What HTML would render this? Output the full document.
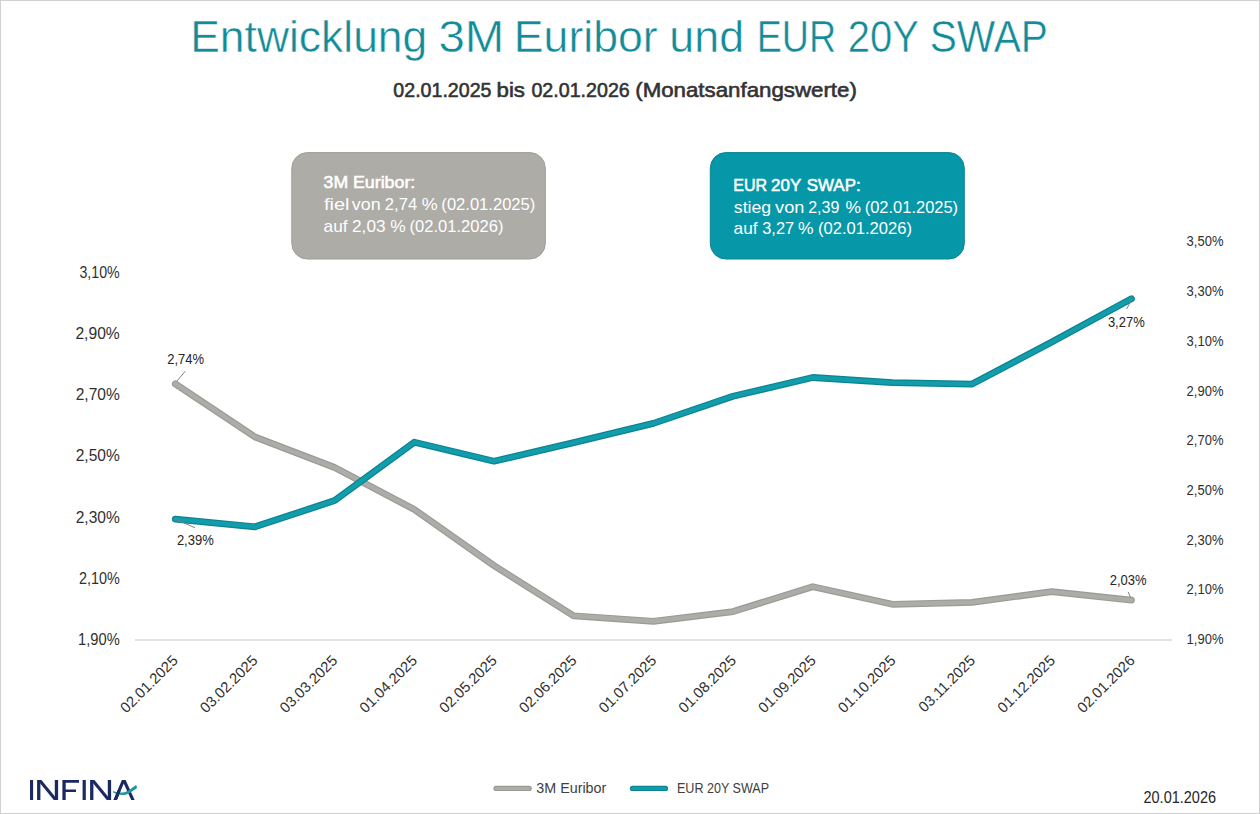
<!DOCTYPE html>
<html><head><meta charset="utf-8">
<style>
html,body{margin:0;padding:0;background:#fff;}
body{width:1260px;height:814px;overflow:hidden;position:relative;font-family:"Liberation Sans",sans-serif;}
svg{position:absolute;left:0;top:0;}
svg text{font-family:"Liberation Sans",sans-serif;}
</style></head>
<body>
<svg width="1260" height="814" viewBox="0 0 1260 814">
<rect x="0.5" y="0.5" width="1259" height="813" fill="#fff" stroke="#d0d0d0" stroke-width="1"/>

<!-- Title -->
<g font-size="44.2" fill="#138b98" stroke="#ffffff" stroke-width="0.5">
<text x="190.20" y="52.1" textLength="237.11" lengthAdjust="spacingAndGlyphs">Entwicklung</text>
<text x="438.44" y="52.1" textLength="65.90" lengthAdjust="spacingAndGlyphs">3M</text>
<text x="513.79" y="52.1" textLength="143.90" lengthAdjust="spacingAndGlyphs">Euribor</text>
<text x="669.34" y="52.1" textLength="74.80" lengthAdjust="spacingAndGlyphs">und</text>
<text x="756.76" y="52.1" textLength="79.43" lengthAdjust="spacingAndGlyphs">EUR</text>
<text x="847.84" y="52.1" textLength="71.19" lengthAdjust="spacingAndGlyphs">20Y</text>
<text x="929.63" y="52.1" textLength="118.34" lengthAdjust="spacingAndGlyphs">SWAP</text>
</g>
<g font-size="20.8" fill="#333333" stroke="#333333" stroke-width="0.6">
<text x="393.33" y="97" textLength="98.19" lengthAdjust="spacingAndGlyphs">02.01.2025</text>
<text x="496.57" y="97" textLength="28.44" lengthAdjust="spacingAndGlyphs">bis</text>
<text x="531.43" y="97" textLength="98.33" lengthAdjust="spacingAndGlyphs">02.01.2026</text>
<text x="635.22" y="97" textLength="221.66" lengthAdjust="spacingAndGlyphs">(Monatsanfangswerte)</text>
</g>

<!-- Boxes -->
<rect x="291.8" y="152.6" width="253.5" height="106.4" rx="15.5" ry="15.5" fill="#adaca7" stroke="#9e9d98" stroke-width="1"/>
<rect x="710.3" y="152.6" width="254" height="106.4" rx="15.5" ry="15.5" fill="#0698a8" stroke="#088593" stroke-width="1"/>
<g fill="#ffffff">
<text x="323.61" y="188.1" font-size="16.6" stroke="#fff" stroke-width="0.55" textLength="24.56" lengthAdjust="spacingAndGlyphs">3M</text>
<text x="352.92" y="188.1" font-size="16.6" stroke="#fff" stroke-width="0.55" textLength="62.43" lengthAdjust="spacingAndGlyphs">Euribor:</text>
<text x="324.02" y="209.7" font-size="16.4" textLength="25.41" lengthAdjust="spacingAndGlyphs">fiel</text>
<text x="351.84" y="209.7" font-size="16.4" textLength="28.82" lengthAdjust="spacingAndGlyphs">von</text>
<text x="384.86" y="209.7" font-size="16.4" textLength="32.32" lengthAdjust="spacingAndGlyphs">2,74</text>
<text x="421.76" y="209.7" font-size="16.4" textLength="15.98" lengthAdjust="spacingAndGlyphs">%</text>
<text x="441.37" y="209.7" font-size="16.4" textLength="93.95" lengthAdjust="spacingAndGlyphs">(02.01.2025)</text>
<text x="323.57" y="231.5" font-size="16.4" textLength="24.01" lengthAdjust="spacingAndGlyphs">auf</text>
<text x="352.03" y="231.5" font-size="16.4" textLength="33.52" lengthAdjust="spacingAndGlyphs">2,03</text>
<text x="390.38" y="231.5" font-size="16.4" textLength="15.44" lengthAdjust="spacingAndGlyphs">%</text>
<text x="409.47" y="231.5" font-size="16.4" textLength="93.95" lengthAdjust="spacingAndGlyphs">(02.01.2026)</text>
<text x="733.37" y="190.9" font-size="16.6" stroke="#fff" stroke-width="0.55" textLength="33.80" lengthAdjust="spacingAndGlyphs">EUR</text>
<text x="771.13" y="190.9" font-size="16.6" stroke="#fff" stroke-width="0.55" textLength="30.06" lengthAdjust="spacingAndGlyphs">20Y</text>
<text x="806.72" y="190.9" font-size="16.6" stroke="#fff" stroke-width="0.55" textLength="53.93" lengthAdjust="spacingAndGlyphs">SWAP:</text>
<text x="733.81" y="212.8" font-size="16.4" textLength="37.33" lengthAdjust="spacingAndGlyphs">stieg</text>
<text x="775.14" y="212.8" font-size="16.4" textLength="29.34" lengthAdjust="spacingAndGlyphs">von</text>
<text x="808.19" y="212.8" font-size="16.4" textLength="31.16" lengthAdjust="spacingAndGlyphs">2,39</text>
<text x="845.58" y="212.8" font-size="16.4" textLength="15.55" lengthAdjust="spacingAndGlyphs">%</text>
<text x="864.68" y="212.8" font-size="16.4" textLength="93.44" lengthAdjust="spacingAndGlyphs">(02.01.2025)</text>
<text x="733.57" y="234.2" font-size="16.4" textLength="24.01" lengthAdjust="spacingAndGlyphs">auf</text>
<text x="762.28" y="234.2" font-size="16.4" textLength="31.85" lengthAdjust="spacingAndGlyphs">3,27</text>
<text x="797.98" y="234.2" font-size="16.4" textLength="15.55" lengthAdjust="spacingAndGlyphs">%</text>
<text x="817.97" y="234.2" font-size="16.4" textLength="94.06" lengthAdjust="spacingAndGlyphs">(02.01.2026)</text>
</g>

<!-- Axis line -->
<line x1="135" y1="640" x2="1172" y2="640" stroke="#d9d9d9" stroke-width="1.5"/>

<!-- Left axis labels -->
<g fill="#303030" font-size="15.2">
<text transform="translate(79.46,277.70) scale(1,1.09)" textLength="40.25" lengthAdjust="spacingAndGlyphs">3,10%</text>
<text transform="translate(75.41,338.90) scale(1,1.09)" textLength="44.34" lengthAdjust="spacingAndGlyphs">2,90%</text>
<text transform="translate(75.72,400.10) scale(1,1.09)" textLength="44.03" lengthAdjust="spacingAndGlyphs">2,70%</text>
<text transform="translate(75.72,461.30) scale(1,1.09)" textLength="44.03" lengthAdjust="spacingAndGlyphs">2,50%</text>
<text transform="translate(75.72,522.50) scale(1,1.09)" textLength="44.03" lengthAdjust="spacingAndGlyphs">2,30%</text>
<text transform="translate(78.88,583.70) scale(1,1.09)" textLength="40.84" lengthAdjust="spacingAndGlyphs">2,10%</text>
<text transform="translate(78.08,644.90) scale(1,1.09)" textLength="41.64" lengthAdjust="spacingAndGlyphs">1,90%</text>
</g>
<!-- Right axis labels -->
<g fill="#303030" font-size="13">
<text transform="translate(1186.6,246.40) scale(1,1.12)">3,50%</text>
<text transform="translate(1186.6,296.10) scale(1,1.12)">3,30%</text>
<text transform="translate(1186.6,345.80) scale(1,1.12)">3,10%</text>
<text transform="translate(1186.6,395.50) scale(1,1.12)">2,90%</text>
<text transform="translate(1186.6,445.20) scale(1,1.12)">2,70%</text>
<text transform="translate(1186.6,494.90) scale(1,1.12)">2,50%</text>
<text transform="translate(1186.6,544.60) scale(1,1.12)">2,30%</text>
<text transform="translate(1186.6,594.30) scale(1,1.12)">2,10%</text>
<text transform="translate(1186.6,644.00) scale(1,1.12)">1,90%</text>
</g>

<!-- X axis labels -->
<g fill="#303030" font-size="14.8" text-anchor="end">
<text transform="translate(178.70,661.5) rotate(-45)">02.01.2025</text>
<text transform="translate(258.45,661.5) rotate(-45)">03.02.2025</text>
<text transform="translate(338.20,661.5) rotate(-45)">03.03.2025</text>
<text transform="translate(417.95,661.5) rotate(-45)">01.04.2025</text>
<text transform="translate(497.70,661.5) rotate(-45)">02.05.2025</text>
<text transform="translate(577.45,661.5) rotate(-45)">02.06.2025</text>
<text transform="translate(657.20,661.5) rotate(-45)">01.07.2025</text>
<text transform="translate(736.95,661.5) rotate(-45)">01.08.2025</text>
<text transform="translate(816.70,661.5) rotate(-45)">01.09.2025</text>
<text transform="translate(896.45,661.5) rotate(-45)">01.10.2025</text>
<text transform="translate(976.20,661.5) rotate(-45)">03.11.2025</text>
<text transform="translate(1055.95,661.5) rotate(-45)">01.12.2025</text>
<text transform="translate(1135.70,661.5) rotate(-45)">02.01.2026</text>
</g>

<!-- Series -->
<g fill="none" stroke-linejoin="round" stroke-linecap="round">
<polyline stroke="#9a9a96" stroke-width="6.8" points="175.30,383.8 254.98,437.0 334.66,467.5 414.34,509.5 494.02,565.6 573.70,615.8 653.38,621.3 733.06,611.6 812.74,586.7 892.42,604.3 972.10,602.4 1051.78,591.6 1131.46,600.2"/>
<polyline stroke="#acaca8" stroke-width="4.4" points="175.30,383.8 254.98,437.0 334.66,467.5 414.34,509.5 494.02,565.6 573.70,615.8 653.38,621.3 733.06,611.6 812.74,586.7 892.42,604.3 972.10,602.4 1051.78,591.6 1131.46,600.2"/>
<polyline stroke="#0b8390" stroke-width="6.8" points="175.30,519.1 254.98,526.8 334.66,500.6 414.34,442.2 494.02,461.2 573.70,442.6 653.38,423.4 733.06,396.2 812.74,377.5 892.42,382.6 972.10,384.1 1051.78,342.1 1131.46,298.8"/>
<polyline stroke="#119dab" stroke-width="4.4" points="175.30,519.1 254.98,526.8 334.66,500.6 414.34,442.2 494.02,461.2 573.70,442.6 653.38,423.4 733.06,396.2 812.74,377.5 892.42,382.6 972.10,384.1 1051.78,342.1 1131.46,298.8"/>
</g>

<!-- Leader lines -->
<g stroke="#7f7f7f" stroke-width="1">
<line x1="176.7" y1="381.3" x2="185.2" y2="371.3"/>
<line x1="174.7" y1="519.1" x2="195" y2="527.7"/>
<line x1="1126.6" y1="309" x2="1131.9" y2="299.1"/>
<line x1="1128.2" y1="592" x2="1130.6" y2="597.6"/>
</g>
<!-- Data labels -->
<g fill="#262626" font-size="13">
<text transform="translate(167.2,364.2) scale(1,1.08)">2,74%</text>
<text transform="translate(176.9,545.2) scale(1,1.08)">2,39%</text>
<text transform="translate(1107.9,327) scale(1,1.08)">3,27%</text>
<text transform="translate(1109.7,585.2) scale(1,1.08)">2,03%</text>
</g>

<!-- Legend -->
<line x1="496" y1="788.4" x2="529.2" y2="788.4" stroke="#9a9a96" stroke-width="5.2" stroke-linecap="round"/>
<line x1="496" y1="788.4" x2="529.2" y2="788.4" stroke="#acaca8" stroke-width="3" stroke-linecap="round"/>
<text x="536.3" y="792.9" font-size="14" fill="#404040" textLength="70" lengthAdjust="spacingAndGlyphs">3M Euribor</text>
<line x1="632.5" y1="788.4" x2="665.5" y2="788.4" stroke="#0b8390" stroke-width="5.2" stroke-linecap="round"/>
<line x1="632.5" y1="788.4" x2="665.5" y2="788.4" stroke="#119dab" stroke-width="3" stroke-linecap="round"/>
<text x="677" y="792.9" font-size="14" fill="#404040" textLength="92" lengthAdjust="spacingAndGlyphs">EUR 20Y SWAP</text>

<!-- Date -->
<text x="1143.5" y="802.8" font-size="16" fill="#262626" textLength="72.5" lengthAdjust="spacingAndGlyphs">20.01.2026</text>

<!-- Logo -->
<defs><clipPath id="lc"><rect x="20" y="780" width="130" height="20"/></clipPath></defs>
<g fill="#1b2862">
<rect x="30" y="780" width="3.1" height="20"/>
<rect x="37.1" y="780" width="3.3" height="20"/>
<rect x="54.8" y="780" width="3.3" height="20"/>
<path d="M62.4,780 H79 V782.7 H65.7 V789.4 H76 V792 H65.7 V800 H62.4 Z"/>
<rect x="82.6" y="780" width="3.2" height="20"/>
<rect x="90.1" y="780" width="3.3" height="20"/>
<rect x="107.8" y="780" width="3.3" height="20"/>
</g>
<g clip-path="url(#lc)" stroke="#1b2862" stroke-width="3.1" fill="none">
<line x1="38.3" y1="778.6" x2="56.9" y2="801.4"/>
<line x1="91.3" y1="778.6" x2="109.9" y2="801.4"/>
<path d="M114.8,801 L123.7,779.6 L133.4,801" stroke-linejoin="miter"/>
</g>
<path d="M113.0,791.0 C117,792.4 121,792.8 124.5,792.2 C128.5,791.2 132,788 135.6,785.3 C136.8,785.4 137.3,787.2 136.6,788.6 C133.5,790.6 130,793.2 126.5,794.4 C122,795.7 117,794.8 113.0,792.3 Z" fill="#1a9aa0"/>
<g clip-path="url(#lc)" stroke="#1b2862" stroke-width="3.1" fill="none">
<line x1="114.8" y1="801" x2="119" y2="790.9"/>
</g>
</svg>
</body></html>
